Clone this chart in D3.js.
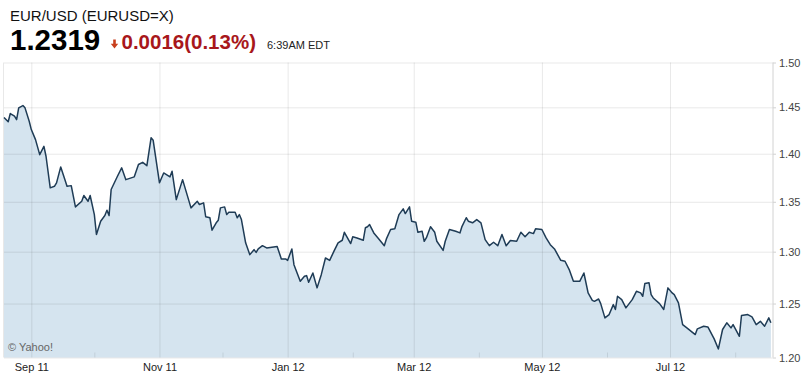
<!DOCTYPE html>
<html>
<head>
<meta charset="utf-8">
<script src="https://cdn.jsdelivr.net/npm/d3@7"></script>
<style>
    body { margin: 0; background: #fff; }
    svg { display: block; font-family: 'Liberation Sans', Arial, sans-serif; }
</style>
</head>
<body>
<div id="chart"></div>
<script>
// Data
const dates = [
    '2011-08-19','2011-08-21','2011-08-22','2011-08-24','2011-08-25','2011-08-26','2011-08-28','2011-08-29','2011-08-31',
    '2011-09-01','2011-09-03','2011-09-05','2011-09-07','2011-09-08','2011-09-10','2011-09-12','2011-09-13','2011-09-15',
    '2011-09-17','2011-09-18','2011-09-20','2011-09-22','2011-09-25','2011-09-26','2011-09-28','2011-09-29',
    '2011-10-01','2011-10-02','2011-10-04','2011-10-06','2011-10-07','2011-10-08','2011-10-09','2011-10-12','2011-10-14',
    '2011-10-16','2011-10-20','2011-10-22','2011-10-24','2011-10-26','2011-10-28','2011-10-29',
    '2011-11-01','2011-11-03','2011-11-06','2011-11-07','2011-11-09','2011-11-12','2011-11-16','2011-11-19','2011-11-20',
    '2011-11-22','2011-11-23','2011-11-25','2011-11-26','2011-11-28','2011-11-29','2011-11-30',
    '2011-12-02','2011-12-03','2011-12-04','2011-12-07','2011-12-08','2011-12-09','2011-12-10','2011-12-12','2011-12-14',
    '2011-12-16','2011-12-17','2011-12-18','2011-12-20','2011-12-22','2011-12-27','2011-12-29','2011-12-31',
    '2012-01-01','2012-01-03','2012-01-04','2012-01-07','2012-01-09','2012-01-10','2012-01-11','2012-01-13','2012-01-15',
    '2012-01-17','2012-01-19','2012-01-21','2012-01-23','2012-01-25','2012-01-27','2012-01-28','2012-01-31',
    '2012-02-01','2012-02-03','2012-02-06','2012-02-07','2012-02-08','2012-02-09','2012-02-11','2012-02-13','2012-02-16',
    '2012-02-17','2012-02-19','2012-02-21','2012-02-23','2012-02-25','2012-02-26','2012-02-28','2012-02-29',
    '2012-03-02','2012-03-03','2012-03-05','2012-03-06','2012-03-07','2012-03-09','2012-03-11','2012-03-12','2012-03-15',
    '2012-03-16','2012-03-18','2012-03-21','2012-03-23','2012-03-24','2012-03-26','2012-03-27','2012-03-29','2012-03-31',
    '2012-04-02','2012-04-04','2012-04-06','2012-04-08','2012-04-10','2012-04-12','2012-04-14','2012-04-16','2012-04-19',
    '2012-04-21','2012-04-23','2012-04-25','2012-04-27','2012-04-28',
    '2012-05-01','2012-05-03','2012-05-05','2012-05-07','2012-05-10','2012-05-12','2012-05-14','2012-05-16','2012-05-19',
    '2012-05-21','2012-05-23','2012-05-25','2012-05-26','2012-05-28','2012-05-29','2012-05-31',
    '2012-06-02','2012-06-04','2012-06-05','2012-06-06','2012-06-08','2012-06-10','2012-06-13','2012-06-15','2012-06-17',
    '2012-06-18','2012-06-19','2012-06-21','2012-06-22','2012-06-23','2012-06-26','2012-06-28','2012-06-30',
    '2012-07-02','2012-07-03','2012-07-05','2012-07-07','2012-07-09','2012-07-13','2012-07-14','2012-07-17','2012-07-19',
    '2012-07-22','2012-07-24','2012-07-26','2012-07-28','2012-07-30','2012-07-31',
    '2012-08-03','2012-08-04','2012-08-07','2012-08-09','2012-08-11','2012-08-13','2012-08-15','2012-08-17','2012-08-18'
];

const closes = [
    1.4389,1.4342,1.4432,1.4403,1.4366,1.4494,1.4519,1.4494,1.4348,
    1.4258,1.4150,1.3990,1.4078,1.3973,1.3643,1.3659,1.3695,1.3861,
    1.3728,1.3659,1.3666,1.3448,1.3505,1.3564,1.3505,1.3564,
    1.3370,1.3170,1.3303,1.3360,1.3414,1.3360,1.3626,1.3763,1.3851,
    1.3728,1.3757,1.3886,1.3909,1.3874,1.4169,1.4143,
    1.3695,1.3798,1.3757,1.3815,1.3522,1.3728,1.3438,1.3505,1.3472,
    1.3489,1.3348,1.3337,1.3213,1.3287,1.3313,1.3438,
    1.3448,1.3370,1.3393,1.3393,1.3337,1.3370,1.3320,1.3087,1.2971,
    1.3020,1.2993,1.3027,1.3059,1.3037,1.3052,1.2929,1.2929,
    1.2915,1.3027,1.2873,1.2712,1.2760,1.2767,1.2703,1.2792,1.2649,
    1.2776,1.2938,1.2915,1.3003,1.3087,1.3113,1.3192,1.3080,
    1.3147,1.3136,1.3113,1.3237,1.3247,1.3269,1.3186,1.3136,1.3059,
    1.3126,1.3220,1.3227,1.3370,1.3428,1.3380,1.3448,1.3303,
    1.3293,1.3192,1.3202,1.3103,1.3136,1.3247,1.3192,1.3103,1.3013,
    1.3103,1.3220,1.3202,1.3186,1.3252,1.3338,1.3303,1.3287,1.3320,
    1.3287,1.3119,1.3059,1.3093,1.3059,1.3170,1.3059,1.3110,1.3103,
    1.3192,1.3147,1.3192,1.3179,1.3227,
    1.3220,1.3136,1.3069,1.3027,1.2915,1.2906,1.2825,1.2712,1.2712,
    1.2792,1.2601,1.2530,1.2521,1.2543,1.2499,1.2365,
    1.2396,1.2490,1.2444,1.2569,1.2537,1.2459,1.2537,1.2616,1.2601,
    1.2569,1.2690,1.2697,1.2585,1.2553,1.2499,1.2444,1.2649,
    1.2601,1.2585,1.2507,1.2302,1.2272,1.2210,1.2263,1.2287,1.2281,
    1.2170,1.2078,1.2257,1.2319,1.2272,1.2302,
    1.2194,1.2387,1.2396,1.2374,1.2302,1.2333,1.2287,1.2365,1.2319
];

const dateRange = ['2011-08-19', '2012-08-19'];
const priceRange = [1.20, 1.50];
const yTicks = [1.20, 1.25, 1.30, 1.35, 1.40, 1.45, 1.50];
const labelMonths = ['2011-09-01', '2011-11-01', '2012-01-01', '2012-03-01', '2012-05-01', '2012-07-01'];
const minorMonths = ['2011-10-01', '2011-12-01', '2012-02-01', '2012-04-01', '2012-06-01', '2012-08-01'];

const titleText = 'EUR/USD (EURUSD=X)';
const lastPrice = '1.2319';
const changeText = '0.0016(0.13%)';
const timeText = '6:39AM EDT';
const creditText = '\u00A9 Yahoo!';

function draw() {
    const parseDate = d3.timeParse('%Y-%m-%d');
    const dataset = dates.map((d, i) => ({ date: parseDate(d), close: closes[i] }));

    const xAccessor = d => d.date;
    const yAccessor = d => d.close;

    // Dimensions
    let dimensions = {
        width: 803,
        height: 376,
        left: 4,
        right: 773,
        top: 62.5,
        bottom: 357.5,
    };

    const svg = d3.select('#chart')
        .append('svg')
        .attr('width', dimensions.width)
        .attr('height', dimensions.height);

    // Header
    svg.append('text')
        .attr('x', 10)
        .attr('y', 20.5)
        .style('font-size', '15px')
        .attr('fill', '#111')
        .text(titleText);

    svg.append('text')
        .attr('x', 10)
        .attr('y', 49.5)
        .style('font-size', '29.5px')
        .style('font-weight', 'bold')
        .attr('fill', '#000')
        .text(lastPrice);

    // down arrow
    svg.append('path')
        .attr('d', 'M113.2,39.5 L115.8,39.5 L115.8,43.8 L118.2,43.8 L114.5,48.5 L110.8,43.8 L113.2,43.8 Z')
        .attr('fill', '#c8401e');

    svg.append('text')
        .attr('x', 121.5)
        .attr('y', 49)
        .style('font-size', '20.5px')
        .style('font-weight', 'bold')
        .attr('fill', '#a8171b')
        .text(changeText);

    svg.append('text')
        .attr('x', 267)
        .attr('y', 48.5)
        .style('font-size', '11px')
        .attr('fill', '#222')
        .text(timeText);

    // Scales
    const xScale = d3.scaleTime()
        .domain(dateRange.map(parseDate))
        .range([dimensions.left, dimensions.right]);

    const yScale = d3.scaleLog()
        .domain(priceRange)
        .range([dimensions.bottom, dimensions.top]);

    // Area + line
    const areaGenerator = d3.area()
        .x(d => xScale(xAccessor(d)))
        .y0(dimensions.bottom)
        .y1(d => yScale(yAccessor(d)));

    const lineGenerator = d3.line()
        .x(d => xScale(xAccessor(d)))
        .y(d => yScale(yAccessor(d)));

    svg.append('path')
        .datum(dataset)
        .attr('d', areaGenerator)
        .attr('fill', '#d5e4ef');

    // Grid
    const gridColor = 'rgba(0,0,0,0.09)';

    const yGrid = svg.append('g')
        .attr('transform', `translate(${dimensions.right}, 0)`)
        .call(d3.axisLeft(yScale)
            .tickValues(yTicks)
            .tickSize(dimensions.right - dimensions.left)
            .tickFormat(''));
    yGrid.select('.domain').remove();
    yGrid.selectAll('line').attr('stroke', gridColor);

    const xGrid = svg.append('g')
        .attr('transform', `translate(0, ${dimensions.bottom})`)
        .call(d3.axisBottom(xScale)
            .tickValues(labelMonths.map(parseDate))
            .tickSize(-(dimensions.bottom - dimensions.top))
            .tickFormat(''));
    xGrid.select('.domain').remove();
    xGrid.selectAll('line').attr('stroke', gridColor);

    const xMinor = svg.append('g')
        .attr('transform', `translate(0, ${dimensions.bottom})`)
        .call(d3.axisBottom(xScale)
            .tickValues(minorMonths.map(parseDate))
            .tickSize(-5)
            .tickFormat(''));
    xMinor.select('.domain').remove();
    xMinor.selectAll('line').attr('stroke', gridColor);

    svg.append('line')
        .attr('x1', dimensions.left - 0.5)
        .attr('x2', dimensions.left - 0.5)
        .attr('y1', dimensions.top)
        .attr('y2', dimensions.bottom)
        .attr('stroke', gridColor);

    svg.append('path')
        .datum(dataset)
        .attr('d', lineGenerator)
        .attr('fill', 'none')
        .attr('stroke', '#1f3c56')
        .attr('stroke-width', 1.5)
        .attr('stroke-linejoin', 'round');

    // Axes
    const yAxis = d3.axisRight(yScale)
        .tickValues(yTicks)
        .tickFormat(d3.format('.2f'))
        .tickSize(3)
        .tickPadding(3);

    const yAxisGroup = svg.append('g')
        .attr('transform', `translate(${dimensions.right}, 0)`)
        .call(yAxis);
    yAxisGroup.select('.domain')
        .attr('stroke', '#d2d2d2')
        .attr('d', `M0,${dimensions.top}V${dimensions.bottom}`);
    yAxisGroup.selectAll('line').attr('stroke', '#d2d2d2');
    yAxisGroup.selectAll('text')
        .attr('fill', '#444')
        .style('font-size', '11px')
        .style('font-family', "'Liberation Sans', Arial, sans-serif");

    const xAxis = d3.axisBottom(xScale)
        .tickValues(labelMonths.map(parseDate))
        .tickFormat(d3.timeFormat('%b %y'))
        .tickSize(0)
        .tickPadding(6);

    const xAxisGroup = svg.append('g')
        .attr('transform', `translate(0, ${dimensions.bottom})`)
        .call(xAxis);
    xAxisGroup.select('.domain').remove();
    xAxisGroup.selectAll('text')
        .attr('fill', '#222')
        .style('font-size', '11px')
        .style('font-family', "'Liberation Sans', Arial, sans-serif");

    svg.append('text')
        .attr('x', 8)
        .attr('y', 351)
        .style('font-size', '11px')
        .attr('fill', '#666')
        .text(creditText);
}

draw();
</script>
</body>
</html>
